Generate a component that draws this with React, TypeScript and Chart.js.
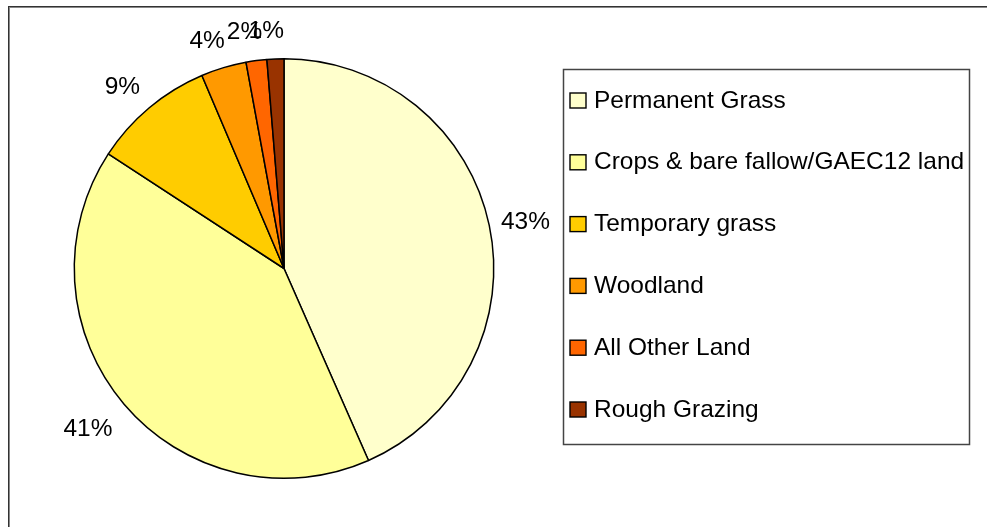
import React, { useEffect, useRef } from "react";
import { Chart, registerables } from "chart.js";

Chart.register(...registerables);

const categories = [
  "Permanent Grass",
  "Crops & bare fallow/GAEC12 land",
  "Temporary grass",
  "Woodland",
  "All Other Land",
  "Rough Grazing",
];
const shares = [43.4, 40.8, 9.4, 3.5, 1.6, 1.3];
const colors = ["#FFFFCC", "#FFFF99", "#FFCC00", "#FF9900", "#FF6600", "#993300"];

const FONT = "24px 'Liberation Sans', Arial, sans-serif";
const SX = 1.02;

function drawText(ctx: CanvasRenderingContext2D, text: string, x: number, y: number, align: CanvasTextAlign) {
  ctx.save();
  ctx.translate(x, y);
  ctx.scale(SX, 1);
  ctx.font = FONT;
  ctx.fillStyle = "#000";
  ctx.textAlign = align;
  ctx.textBaseline = "middle";
  ctx.fillText(text, 0, 0);
  ctx.restore();
}

const framePlugin = {
  id: "frame",
  beforeDraw(chart: any) {
    const ctx: CanvasRenderingContext2D = chart.ctx;
    const w = chart.width;
    const h = chart.height;
    ctx.save();
    ctx.fillStyle = "#fff";
    ctx.fillRect(0, 0, w, h);
    ctx.fillStyle = "#333";
    ctx.fillRect(8, 6, w - 8, 1);
    ctx.fillRect(8, 6, 1, h - 6);
    ctx.fillStyle = "#888";
    ctx.fillRect(9, 7, w - 9, 1);
    ctx.fillRect(9, 7, 1, h - 7);
    ctx.restore();
  },
};

const labelPlugin = {
  id: "pctLabels",
  afterDatasetsDraw(chart: any) {
    const ctx: CanvasRenderingContext2D = chart.ctx;
    const meta = chart.getDatasetMeta(0);
    const data: number[] = chart.data.datasets[0].data;
    const total = data.reduce((a, b) => a + b, 0);
    ctx.save();
    ctx.font = FONT;
    meta.data.forEach((arc: any, i: number) => {
      const p = arc.getProps(["x", "y", "startAngle", "endAngle", "outerRadius"], true);
      const mid = (p.startAngle + p.endAngle) / 2;
      const dx = Math.cos(mid);
      const dy = Math.sin(mid);
      const text = Math.round((data[i] / total) * 100) + "%";
      const halfW = (ctx.measureText(text).width * SX) / 2;
      const r = p.outerRadius + 10;
      const cx = p.x + dx * r + dx * halfW * 1.1 + (dx < 0 ? -8 : 0);
      const cy = p.y + dy * r + dy * 22 + 4;
      drawText(ctx, text, cx, cy, "center");
    });
    ctx.restore();
  },
};

const legendPlugin = {
  id: "boxLegend",
  afterDraw(chart: any) {
    const ctx: CanvasRenderingContext2D = chart.ctx;
    const labels: string[] = chart.data.labels;
    const bg: string[] = chart.data.datasets[0].backgroundColor;
    const left = 563;
    const top = 69;
    const right = 969;
    const bottom = 444;
    ctx.save();
    ctx.strokeStyle = "#444";
    ctx.lineWidth = 1.5;
    ctx.strokeRect(left + 0.5, top + 0.5, right - left, bottom - top);
    const firstY = 100;
    const step = 61.8;
    labels.forEach((lab, i) => {
      const y = firstY + i * step;
      ctx.fillStyle = bg[i];
      ctx.fillRect(570, y - 7, 16, 15);
      ctx.strokeStyle = "#000";
      ctx.lineWidth = 1.4;
      ctx.strokeRect(570, y - 7, 16, 15);
      drawText(ctx, lab, 594, y + 1, "left");
    });
    ctx.restore();
  },
};

export default function App() {
  const ref = useRef<HTMLCanvasElement | null>(null);
  useEffect(() => {
    if (!ref.current) return;
    const chart = new Chart(ref.current, {
      type: "pie",
      data: {
        labels: categories,
        datasets: [
          {
            data: shares,
            backgroundColor: colors,
            borderColor: "#000",
            borderWidth: 1.5,
          },
        ],
      },
      options: {
        responsive: false,
        animation: false,
        events: [],
        layout: { padding: { left: 73, right: 492, top: 58, bottom: 48 } },
        plugins: {
          legend: { display: false },
          tooltip: { enabled: false },
          title: { display: false },
        },
      },
      plugins: [framePlugin, labelPlugin, legendPlugin],
    } as any);
    return () => chart.destroy();
  }, []);
  return (
    <div style={{ position: "fixed", left: 0, top: 0, width: 987, height: 527, background: "#fff" }}>
      <canvas ref={ref} width={987} height={527} style={{ display: "block", width: 987, height: 527 }} />
    </div>
  );
}
